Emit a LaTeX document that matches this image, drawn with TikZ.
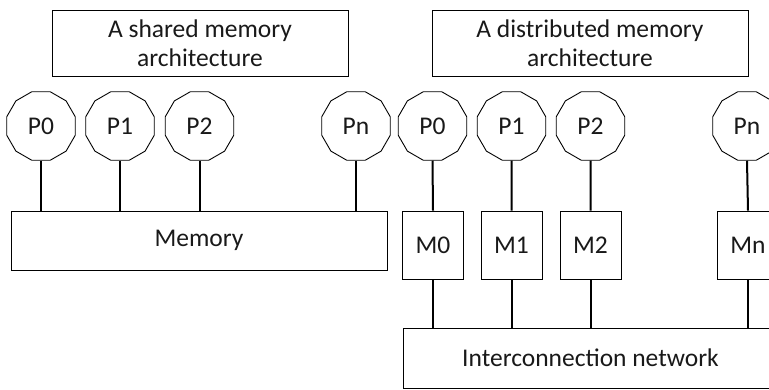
\documentclass[tikz,border=0pt]{standalone}
\usepackage{fontspec}
\setmainfont{Carlito}
\usetikzlibrary{shapes.geometric}

\tikzset{
  every node/.style={font=\fontsize{25.5}{29}\selectfont, text=black!90},
  titlebox/.style={draw, line width=0.9pt, rectangle, minimum width=296pt, minimum height=66pt, align=center, inner sep=0pt},
  proc/.style={draw, line width=0.9pt, regular polygon, regular polygon sides=12, minimum size=71pt, inner sep=0pt},
  membox/.style={draw, line width=0.9pt, rectangle, inner sep=0pt},
  link/.style={line width=2pt},
}

\begin{document}
\begin{tikzpicture}[x=1pt, y=-1pt]
  \useasboundingbox (0,0) rectangle (769,389);
  \clip (0,0) rectangle (769,389);

  % ---- shared memory side ----
  \node[titlebox] (tS) at (200,43) {A shared memory\\architecture};
  \node[proc] (sp0) at (41,126) {P0};
  \node[proc] (sp1) at (120,126) {P1};
  \node[proc] (sp2) at (199.5,126) {P2};
  \node[proc] (spn) at (356,126) {Pn};
  \node[membox, minimum width=376pt, minimum height=59pt] (mem) at (199,240.5) {Memory};
  \foreach \p in {sp0,sp1,sp2,spn}
    \draw[link] (\p.south) -- (\p.south |- mem.north);

  % ---- distributed memory side ----
  \node[titlebox, minimum width=316pt] (tD) at (590,43) {A distributed memory\\architecture};
  \node[proc] (dp0) at (432.5,126) {P0};
  \node[proc] (dp1) at (511.5,126) {P1};
  \node[proc] (dp2) at (590.5,126) {P2};
  \node[proc] (dpn) at (747,126) {Pn};
  \node[membox, minimum width=61pt, minimum height=68pt] (m0) at (433,245) {M0};
  \node[membox, minimum width=61pt, minimum height=68pt] (m1) at (511.5,245) {M1};
  \node[membox, minimum width=61pt, minimum height=68pt] (m2) at (590.5,245) {M2};
  \node[membox, minimum width=61pt, minimum height=68pt] (mn) at (748,245) {Mn};
  \node[membox, minimum width=375pt, minimum height=60pt] (net) at (590.5,358) {Interconnection network};
  \foreach \i in {0,1,2,n} {
    \draw[link] (dp\i.south) -- (m\i.north);
    \draw[link] (m\i.south) -- (m\i.south |- net.north);
  }
\end{tikzpicture}
\end{document}
